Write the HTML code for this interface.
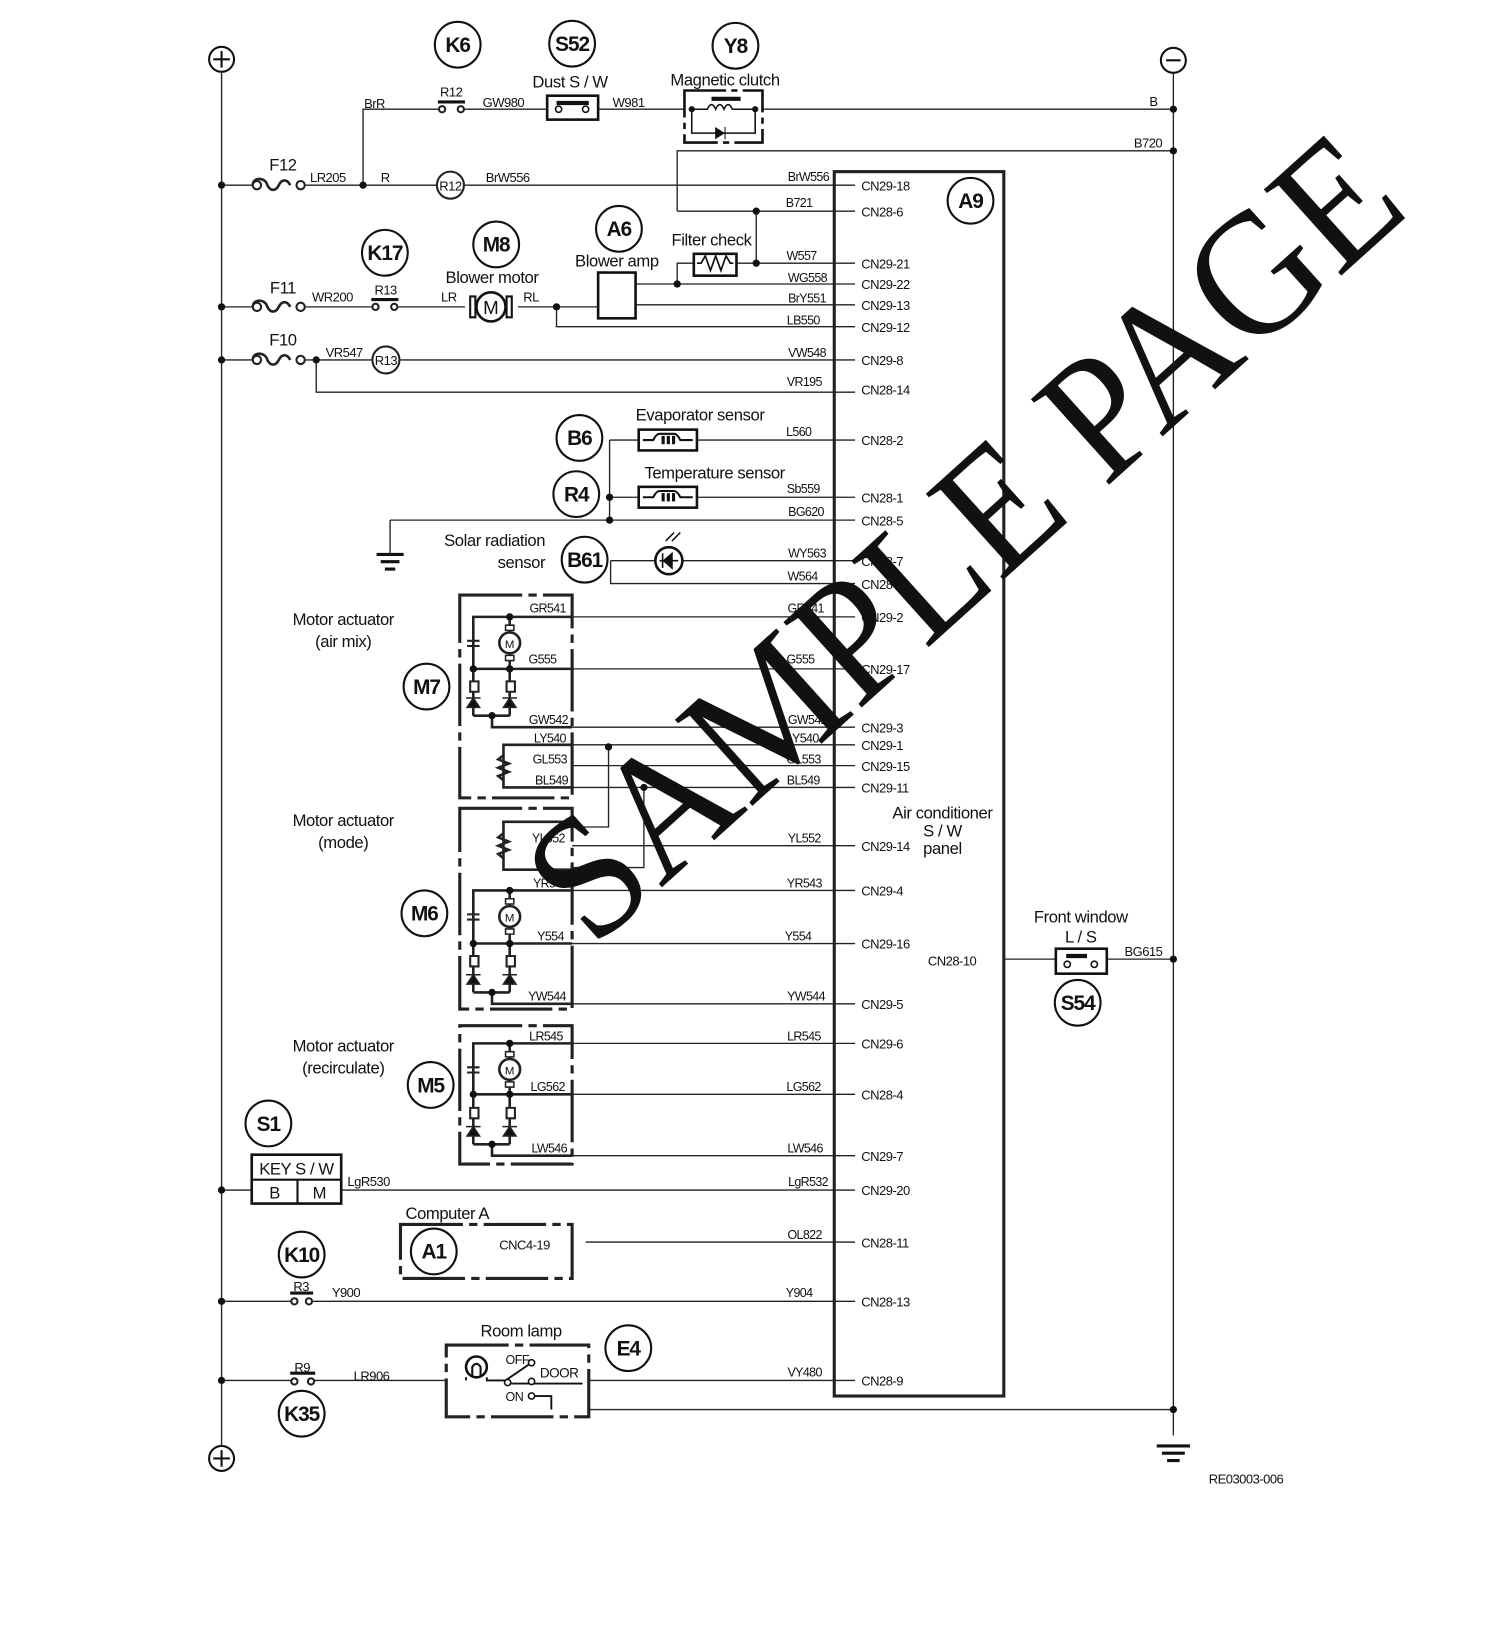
<!DOCTYPE html>
<html><head><meta charset="utf-8"><style>
html,body{margin:0;padding:0;background:#fff;}
svg{display:block}
text{font-family:"Liberation Sans",sans-serif;fill:#111;}
.w{font-size:12px;letter-spacing:-0.6px;text-anchor:end}
.c{font-size:12.5px;letter-spacing:-0.5px}
.t{font-size:16px;letter-spacing:-0.4px}
.b{font-size:20px;font-weight:bold;text-anchor:middle;letter-spacing:-1px}
</style></head><body>
<svg width="1500" height="1628" viewBox="0 0 1442 1565" preserveAspectRatio="none" xmlns="http://www.w3.org/2000/svg">
<g stroke="#222" stroke-width="1.3" fill="none">
<line x1="213" y1="70" x2="213" y2="1390"/>
<line x1="1128" y1="71" x2="1128" y2="1380"/>
<rect x="802" y="165" width="163" height="1177" stroke-width="3"/>
<path d="M349 178V105H422M446 105H526M575 105H658M733 105H1128"/>
<path d="M651 203V145H1128M651 203H822M727 203V253"/>
<path d="M213 178H243M293 178H420M446 178H822"/>
<path d="M213 295H243M293 295H358M382 295H447M498 295H575M535 295V314H822M611 293H822M611 273H822M651 273V253H667M708 253H822"/>
<path d="M213 346H243M293 346H358M384 346H822M304 346V377H822"/>
<path d="M586 423H614M670 423H822M586 423V500M586 478H614M670 478H822M375 500H822M375 500V532"/>
<path d="M587 539H630M656 539H822M587 539V561H822"/>
<path d="M550 593H822M550 643H822M550 699H822M550 716H822M550 736H822M550 757H822"/>
<path d="M585 718V795H550M619 757V834H550"/>
<path d="M550 813H822M550 856H822M550 907H822M550 965H822"/>
<path d="M550 1003H822M550 1052H822M550 1111H822"/>
<path d="M213 1144H242M328 1144H822M563 1194H822M213 1251H280M300 1251H822"/>
<path d="M213 1327H280M302 1327H429M566 1327H822M566 1355H1128"/>
<path d="M965 922H1015M1064 922H1128"/>
</g>
<g stroke="#111" stroke-width="2" fill="#fff">
<circle cx="213" cy="57" r="12"/><circle cx="213" cy="1402" r="12"/><circle cx="1128" cy="58" r="12"/>
</g>
<g stroke="#111" stroke-width="2"><path d="M205 57H221M213 49V65M205 1402H221M213 1394V1410M1121 58H1135"/></g>
<g stroke="#111" stroke-width="3"><path d="M362 533H388M366 540H384M370 547H380M1112 1390H1144M1117 1397H1139M1122 1404H1134"/></g>
<g fill="#111">
<circle cx="213" cy="178" r="3.5"/><circle cx="213" cy="295" r="3.5"/><circle cx="213" cy="346" r="3.5"/><circle cx="213" cy="1144" r="3.5"/><circle cx="213" cy="1251" r="3.5"/><circle cx="213" cy="1327" r="3.5"/>
<circle cx="349" cy="178" r="3.5"/><circle cx="304" cy="346" r="3.5"/><circle cx="535" cy="295" r="3.5"/><circle cx="651" cy="273" r="3.5"/><circle cx="727" cy="203" r="3.5"/><circle cx="727" cy="253" r="3.5"/>
<circle cx="586" cy="478" r="3.5"/><circle cx="586" cy="500" r="3.5"/><circle cx="585" cy="718" r="3.5"/><circle cx="619" cy="757" r="3.5"/>
<circle cx="1128" cy="105" r="3.5"/><circle cx="1128" cy="145" r="3.5"/><circle cx="1128" cy="922" r="3.5"/><circle cx="1128" cy="1355" r="3.5"/>
</g>
<g stroke="#222" stroke-width="2" fill="#fff">
<path d="M243 178c0-8 12-8 14 0c3 6 8 6 11 0c3-6 8-6 11 0M243 295c0-8 12-8 14 0c3 6 8 6 11 0c3-6 8-6 11 0M243 346c0-8 12-8 14 0c3 6 8 6 11 0c3-6 8-6 11 0" fill="none" stroke-width="2.5"/>
<circle cx="247" cy="178" r="4"/><circle cx="289" cy="178" r="4"/>
<circle cx="247" cy="295" r="4"/><circle cx="289" cy="295" r="4"/>
<circle cx="247" cy="346" r="4"/><circle cx="289" cy="346" r="4"/>
<circle cx="425" cy="105" r="3"/><circle cx="443" cy="105" r="3"/>
<circle cx="361" cy="295" r="3"/><circle cx="379" cy="295" r="3"/>
<circle cx="283" cy="1251" r="3"/><circle cx="297" cy="1251" r="3"/>
<circle cx="283" cy="1328" r="3"/><circle cx="299" cy="1328" r="3"/>
</g>
<g stroke="#111" stroke-width="3"><path d="M421 98H447M357 288H383M279 1243H301M279 1320H303"/></g>
<g stroke="#222" stroke-width="2" fill="#fff"><circle cx="433" cy="178" r="13"/><circle cx="371" cy="346" r="13"/></g>
<text x="433" y="183" class="c" text-anchor="middle">R12</text>
<text x="371" y="351" class="c" text-anchor="middle">R13</text>
<rect x="526" y="92" width="49" height="23" stroke="#111" stroke-width="2.5" fill="#fff"/>
<path d="M535 99H566" stroke="#111" stroke-width="4"/>
<g stroke="#111" fill="#fff" stroke-width="1.5"><circle cx="537" cy="105" r="3"/><circle cx="563" cy="105" r="3"/></g>
<rect x="658" y="87" width="75" height="50" stroke="#111" stroke-width="2.5" fill="none" stroke-dasharray="40 5 6 5"/>
<g stroke="#111" stroke-width="1.5" fill="none"><path d="M665 105H680q4-9 8 0q4-9 8 0q4-9 8 0H726M665 105V128H726V105"/></g>
<path d="M684 95H712" stroke="#111" stroke-width="4"/>
<path d="M688 123l8 5l-8 5zM697 122V134" fill="#111" stroke="#111"/>
<g fill="#111"><circle cx="665" cy="105" r="3"/><circle cx="726" cy="105" r="3"/></g>
<circle cx="472" cy="295" r="14" stroke="#111" stroke-width="2.5" fill="#fff"/>
<path d="M452 285h5v20h-5zM487 285h5v20h-5z" stroke="#111" stroke-width="2" fill="#fff"/>
<text x="472" y="302" font-size="18" text-anchor="middle">M</text>
<rect x="575" y="262" width="36" height="44" stroke="#111" stroke-width="2.5" fill="#fff"/>
<rect x="667" y="244" width="41" height="21" stroke="#111" stroke-width="2.5" fill="#fff"/>
<path d="M670 253h4l4-7l5 14l5-14l5 14l5-14l4 7h3" stroke="#111" stroke-width="1.6" fill="none"/>
<g stroke="#111" stroke-width="2.5" fill="#fff"><rect x="614" y="413" width="56" height="20"/><rect x="614" y="468" width="56" height="20"/></g>
<g stroke="#111" stroke-width="2" fill="none"><path d="M618 423h10q3-6 6-6h14q3 0 6 6h12M618 478h10q3-6 6-6h14q3 0 6 6h12"/></g>
<g fill="#111"><rect x="636" y="419" width="3" height="8"/><rect x="641" y="419" width="3" height="8"/><rect x="646" y="419" width="3" height="8"/><rect x="636" y="474" width="3" height="8"/><rect x="641" y="474" width="3" height="8"/><rect x="646" y="474" width="3" height="8"/></g>
<circle cx="643" cy="539" r="13" stroke="#111" stroke-width="2.5" fill="#fff"/>
<path d="M634 539h18M646 532l-8 7l8 7zM637 532v14" stroke="#111" stroke-width="1.5" fill="#111"/>
<path d="M640 520l8-8M646 520l8-8" stroke="#111" stroke-width="1.5"/>
<g stroke="#222" stroke-width="3" fill="none" stroke-dasharray="60 6 8 6">
<rect x="442" y="572" width="108" height="195"/>
<rect x="442" y="777" width="108" height="193"/>
<rect x="442" y="986" width="108" height="133"/>
<rect x="385" y="1177" width="165" height="52"/>
<rect x="429" y="1293" width="137" height="69"/>
</g>
<g transform="translate(0,593)" stroke="#222" stroke-width="2.5" fill="none">
<path d="M490 0H455V50H550M490 0H550M490 0V50M455 50V95M490 50V95M455 95H490M473 95V106H550"/>
<path d="M449 23h12M449 28h12" stroke-width="2"/>
<circle cx="490" cy="25" r="10" fill="#fff"/>
<path d="M486 8h8v5h-8zM486 37h8v5h-8z" fill="#fff" stroke-width="1.5"/>
<path d="M449 87l6-9l6 9zM484 87l6-9l6 9zM448 78h14M483 78h14" fill="#111" stroke-width="1.5"/>
<path d="M452 62h8v10h-8zM487 62h8v10h-8z" stroke-width="2" fill="#fff"/>
<g fill="#111" stroke="none"><circle cx="490" cy="0" r="3.5"/><circle cx="455" cy="50" r="3.5"/><circle cx="490" cy="50" r="3.5"/><circle cx="473" cy="95" r="3.5"/></g>
<text x="490" y="30" font-size="11" text-anchor="middle" stroke="none" style="fill:#111">M</text>
</g>
<g transform="translate(0,856)" stroke="#222" stroke-width="2.5" fill="none">
<path d="M490 0H455V51H550M490 0H550M490 0V51M455 51V98M490 51V98M455 98H490M473 98V109H550"/>
<path d="M449 23h12M449 28h12" stroke-width="2"/>
<circle cx="490" cy="25" r="10" fill="#fff"/>
<path d="M486 8h8v5h-8zM486 37h8v5h-8z" fill="#fff" stroke-width="1.5"/>
<path d="M449 90l6-9l6 9zM484 90l6-9l6 9zM448 81h14M483 81h14" fill="#111" stroke-width="1.5"/>
<path d="M452 63h8v10h-8zM487 63h8v10h-8z" stroke-width="2" fill="#fff"/>
<g fill="#111" stroke="none"><circle cx="490" cy="0" r="3.5"/><circle cx="455" cy="51" r="3.5"/><circle cx="490" cy="51" r="3.5"/><circle cx="473" cy="98" r="3.5"/></g>
<text x="490" y="30" font-size="11" text-anchor="middle" stroke="none" style="fill:#111">M</text>
</g>
<g transform="translate(0,1003)" stroke="#222" stroke-width="2.5" fill="none">
<path d="M490 0H455V49H550M490 0H550M490 0V49M455 49V97M490 49V97M455 97H490M473 97V108H550"/>
<path d="M449 23h12M449 28h12" stroke-width="2"/>
<circle cx="490" cy="25" r="10" fill="#fff"/>
<path d="M486 8h8v5h-8zM486 37h8v5h-8z" fill="#fff" stroke-width="1.5"/>
<path d="M449 89l6-9l6 9zM484 89l6-9l6 9zM448 80h14M483 80h14" fill="#111" stroke-width="1.5"/>
<path d="M452 62h8v10h-8zM487 62h8v10h-8z" stroke-width="2" fill="#fff"/>
<g fill="#111" stroke="none"><circle cx="490" cy="0" r="3.5"/><circle cx="455" cy="49" r="3.5"/><circle cx="490" cy="49" r="3.5"/><circle cx="473" cy="97" r="3.5"/></g>
<text x="490" y="30" font-size="11" text-anchor="middle" stroke="none" style="fill:#111">M</text>
</g>
<g stroke="#222" stroke-width="2.5" fill="none">
<path d="M550 716H484V757H550M484 726l-5 4l10 4l-10 4l10 4l-10 4l5 4"/>
<path d="M550 790H484V836H550M484 801l-5 4l10 4l-10 4l10 4l-10 4l5 4"/>
</g>
<rect x="242" y="1110" width="86" height="47" stroke="#111" stroke-width="2.5" fill="#fff"/>
<path d="M242 1134H328M286 1134V1157" stroke="#111" stroke-width="2"/>
<circle cx="458" cy="1314" r="10" stroke="#111" stroke-width="2.5" fill="#fff"/>
<path d="M454 1324v-10q4-6 8 0v10" stroke="#111" stroke-width="2" fill="none"/>
<path d="M448 1324V1327M468 1324V1327H486l22-15M490 1330H560M510 1342H530V1355" stroke="#111" stroke-width="1.8" fill="none"/>
<g stroke="#111" stroke-width="1.5" fill="#fff"><circle cx="488" cy="1329" r="3"/><circle cx="511" cy="1310" r="3"/><circle cx="511" cy="1328" r="3"/><circle cx="511" cy="1342" r="3"/></g>
<rect x="1015" y="912" width="49" height="24" stroke="#111" stroke-width="2.5" fill="#fff"/>
<path d="M1025 919h20" stroke="#111" stroke-width="4"/>
<g stroke="#111" stroke-width="1.5" fill="#fff"><circle cx="1026" cy="927" r="3"/><circle cx="1052" cy="927" r="3"/></g>
<g stroke="#111" stroke-width="2" fill="#fff">
<circle cx="440" cy="43" r="22"/><circle cx="550" cy="42" r="22"/><circle cx="707" cy="44" r="22"/>
<circle cx="370" cy="243" r="22"/><circle cx="477" cy="235" r="22"/><circle cx="595" cy="220" r="22"/>
<circle cx="933" cy="193" r="22"/><circle cx="557" cy="421" r="22"/><circle cx="554" cy="475" r="22"/><circle cx="562" cy="538" r="22"/>
<circle cx="410" cy="660" r="22"/><circle cx="408" cy="878" r="22"/><circle cx="414" cy="1043" r="22"/>
<circle cx="258" cy="1080" r="22"/><circle cx="417" cy="1203" r="22"/><circle cx="290" cy="1206" r="22"/><circle cx="290" cy="1359" r="22"/>
<circle cx="604" cy="1296" r="22"/><circle cx="1036" cy="964" r="22"/>
</g>
<g class="b">
<text x="440" y="50" class="b">K6</text><text x="550" y="49" class="b">S52</text><text x="707" y="51" class="b">Y8</text>
<text x="370" y="250" class="b">K17</text><text x="477" y="242" class="b">M8</text><text x="595" y="227" class="b">A6</text>
<text x="933" y="200" class="b">A9</text><text x="557" y="428" class="b">B6</text><text x="554" y="482" class="b">R4</text><text x="562" y="545" class="b">B61</text>
<text x="410" y="667" class="b">M7</text><text x="408" y="885" class="b">M6</text><text x="414" y="1050" class="b">M5</text>
<text x="258" y="1087" class="b">S1</text><text x="417" y="1210" class="b">A1</text><text x="290" y="1213" class="b">K10</text><text x="290" y="1366" class="b">K35</text>
<text x="604" y="1303" class="b">E4</text><text x="1036" y="971" class="b">S54</text>
</g>
<g class="t">
<text x="548" y="84" text-anchor="middle">Dust S / W</text>
<text x="697" y="82" text-anchor="middle">Magnetic clutch</text>
<text x="272" y="164" text-anchor="middle">F12</text><text x="272" y="282" text-anchor="middle">F11</text><text x="272" y="332" text-anchor="middle">F10</text>
<text x="473" y="272" text-anchor="middle">Blower motor</text>
<text x="593" y="256" text-anchor="middle">Blower amp</text>
<text x="684" y="236" text-anchor="middle">Filter check</text>
<text x="673" y="404" text-anchor="middle">Evaporator sensor</text>
<text x="687" y="460" text-anchor="middle">Temperature sensor</text>
<text x="524" y="525" text-anchor="end">Solar radiation</text><text x="524" y="546" text-anchor="end">sensor</text>
<text x="330" y="601" text-anchor="middle">Motor actuator</text><text x="330" y="622" text-anchor="middle">(air mix)</text>
<text x="330" y="794" text-anchor="middle">Motor actuator</text><text x="330" y="815" text-anchor="middle">(mode)</text>
<text x="330" y="1011" text-anchor="middle">Motor actuator</text><text x="330" y="1032" text-anchor="middle">(recirculate)</text>
<text x="430" y="1172" text-anchor="middle">Computer A</text>
<text x="501" y="1285" text-anchor="middle">Room lamp</text>
<text x="1039" y="887" text-anchor="middle">Front window</text><text x="1039" y="906" text-anchor="middle">L / S</text>
<text x="906" y="787" text-anchor="middle">Air conditioner</text><text x="906" y="804" text-anchor="middle">S / W</text><text x="906" y="821" text-anchor="middle">panel</text>
<text x="285" y="1129" text-anchor="middle">KEY S / W</text>
<text x="264" y="1152" text-anchor="middle">B</text><text x="307" y="1152" text-anchor="middle">M</text>
</g>
<g class="c">
<text x="350" y="104">BrR</text><text x="423" y="93">R12</text><text x="464" y="103">GW980</text><text x="589" y="103">W981</text><text x="1105" y="102">B</text><text x="1090" y="142">B720</text>
<text x="298" y="175">LR205</text><text x="366" y="175">R</text><text x="467" y="175">BrW556</text>
<text x="300" y="290">WR200</text><text x="360" y="283">R13</text><text x="424" y="290">LR</text><text x="503" y="290">RL</text>
<text x="313" y="343">VR547</text>
<text x="334" y="1140">LgR530</text><text x="282" y="1241">R3</text><text x="319" y="1247">Y900</text><text x="283" y="1319">R9</text><text x="340" y="1327">LR906</text>
<text x="480" y="1201">CNC4-19</text>
<text x="486" y="1311" font-size="12">OFF</text><text x="519" y="1324" font-size="13">DOOR</text><text x="486" y="1347" font-size="12">ON</text>
<text x="892" y="928">CN28-10</text><text x="1081" y="919">BG615</text>
<text x="1162" y="1426">RE03003-006</text>
</g>
<g class="w">
<text x="797" y="174">BrW556</text><text x="781" y="199">B721</text><text x="785" y="250">W557</text><text x="795" y="271">WG558</text><text x="794" y="291">BrY551</text><text x="788" y="312">LB550</text>
<text x="794" y="343">VW548</text><text x="790" y="371">VR195</text><text x="780" y="419">L560</text><text x="788" y="474">Sb559</text><text x="792" y="496">BG620</text><text x="794" y="536">WY563</text><text x="786" y="558">W564</text>
<text x="792" y="589">GR541</text><text x="783" y="638">G555</text><text x="795" y="696">GW542</text><text x="787" y="714">LY540</text><text x="789" y="734">GL553</text><text x="788" y="754">BL549</text>
<text x="789" y="810">YL552</text><text x="790" y="853">YR543</text><text x="780" y="904">Y554</text><text x="793" y="962">YW544</text>
<text x="789" y="1000">LR545</text><text x="789" y="1049">LG562</text><text x="791" y="1108">LW546</text><text x="796" y="1140">LgR532</text><text x="790" y="1191">OL822</text><text x="781" y="1247">Y904</text><text x="790" y="1323">VY480</text>
<text x="544" y="589">GR541</text><text x="535" y="638">G555</text><text x="546" y="696">GW542</text><text x="544" y="714">LY540</text><text x="545" y="734">GL553</text><text x="546" y="754">BL549</text>
<text x="543" y="810">YL552</text><text x="546" y="853">YR543</text><text x="542" y="904">Y554</text><text x="544" y="962">YW544</text>
<text x="541" y="1000">LR545</text><text x="543" y="1049">LG562</text><text x="545" y="1108">LW546</text>
</g>
<g class="c">
<text x="828" y="183">CN29-18</text><text x="828" y="208">CN28-6</text><text x="828" y="258">CN29-21</text><text x="828" y="278">CN29-22</text><text x="828" y="298">CN29-13</text><text x="828" y="319">CN29-12</text>
<text x="828" y="351">CN29-8</text><text x="828" y="379">CN28-14</text><text x="828" y="428">CN28-2</text><text x="828" y="483">CN28-1</text><text x="828" y="505">CN28-5</text><text x="828" y="544">CN28-7</text><text x="828" y="566">CN28-8</text>
<text x="828" y="598">CN29-2</text><text x="828" y="648">CN29-17</text><text x="828" y="704">CN29-3</text><text x="828" y="721">CN29-1</text><text x="828" y="741">CN29-15</text><text x="828" y="762">CN29-11</text>
<text x="828" y="818">CN29-14</text><text x="828" y="861">CN29-4</text><text x="828" y="912">CN29-16</text><text x="828" y="970">CN29-5</text>
<text x="828" y="1008">CN29-6</text><text x="828" y="1057">CN28-4</text><text x="828" y="1116">CN29-7</text><text x="828" y="1149">CN29-20</text><text x="828" y="1199">CN28-11</text><text x="828" y="1256">CN28-13</text><text x="828" y="1332">CN28-9</text>
</g>
<text x="0" y="0" transform="translate(925,515) rotate(-42)" text-anchor="middle" font-size="170" textLength="1060" lengthAdjust="spacingAndGlyphs" style="font-family:'Liberation Serif',serif;fill:#111" dy="58">SAMPLE PAGE</text>
</svg>
</body></html>
